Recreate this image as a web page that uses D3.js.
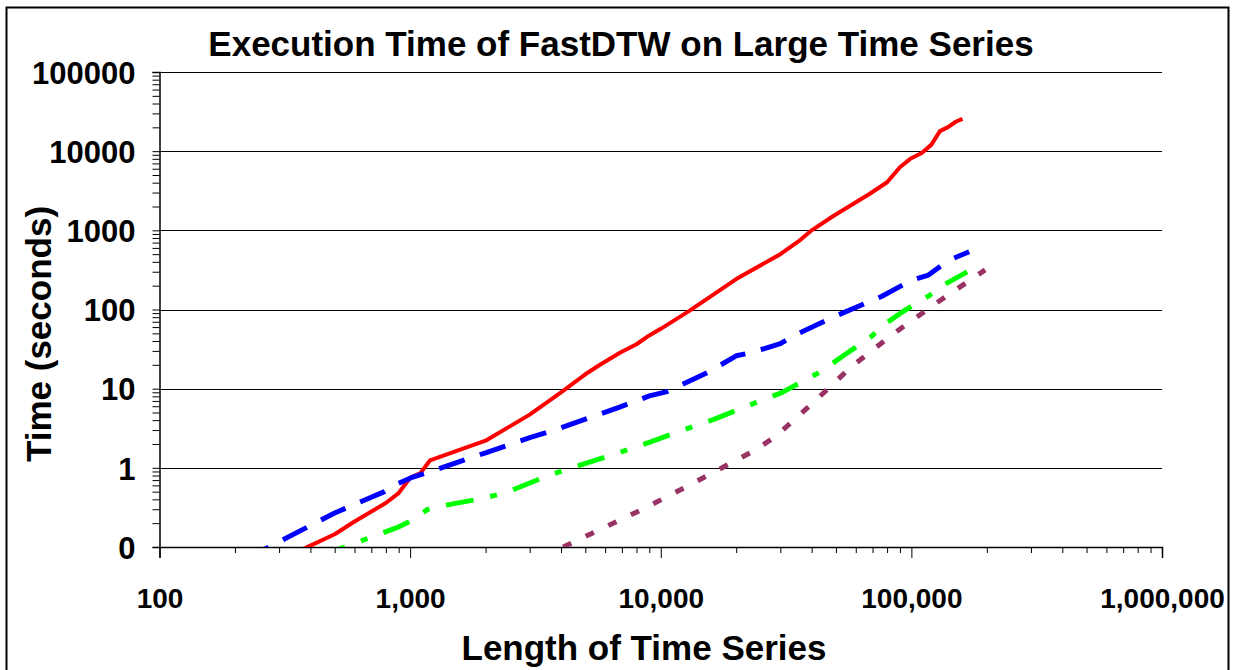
<!DOCTYPE html>
<html>
<head>
<meta charset="utf-8">
<script src="https://cdn.jsdelivr.net/npm/d3@7"></script>
<style>
  body { margin: 0; background: #fff; }
  text { font-family: "Liberation Sans", Arial, sans-serif; font-weight: bold; fill: #000; }
</style>
</head>
<body>
<div id="chart-area"></div>
<script>
// axis ticks
const xTicks = [100, 1000, 10000, 100000, 1000000];
const xTickLabels = ["100", "1,000", "10,000", "100,000", "1,000,000"];
const yTicks = [0.1, 1, 10, 100, 1000, 10000, 100000];
const yTickLabels = ["0", "1", "10", "100", "1000", "10000", "100000"];

// series: [length of time series, seconds]
const redSeries = [
  [300, 0.068], [400, 0.104], [500, 0.145], [600, 0.21], [800, 0.36], [900, 0.48],
  [1000, 0.75], [1100, 0.86], [1200, 1.24], [2000, 2.2], [3000, 4.7], [4000, 9.0],
  [5000, 15.2], [5700, 19.9], [6900, 28.6], [8000, 36.4], [9000, 47], [10000, 57],
  [13000, 96], [20000, 242], [30000, 500], [36000, 753], [40000, 1000], [49000, 1530],
  [68000, 2880], [80000, 4050], [90000, 6270], [99000, 8000], [110000, 9500],
  [120000, 12000], [130000, 17900], [140000, 20100], [151000, 23700], [160000, 25600]
];
const blueSeries = [
  [200, 0.06], [500, 0.269], [790, 0.5], [890, 0.63], [1010, 0.75], [1300, 0.97],
  [2000, 1.55], [3000, 2.4], [4000, 3.2], [6900, 5.9], [9000, 8.1], [10500, 9.1],
  [15500, 16.2], [20000, 26], [23000, 28.6], [30000, 37], [34000, 47], [50000, 83],
  [76000, 146], [99000, 230], [117000, 272], [134000, 374], [147000, 442], [170000, 536]
];
const greenSeries = [
  [500, 0.09], [880, 0.174], [1000, 0.211], [1170, 0.296], [1240, 0.317], [1900, 0.405],
  [2400, 0.483], [3560, 0.8], [4550, 1.03], [6900, 1.57], [9000, 2.1], [13000, 3.2],
  [16300, 4.1], [24500, 6.85], [30400, 8.9], [43900, 16.7], [53800, 26.4], [69500, 46],
  [76000, 61], [92000, 93], [118600, 152], [134000, 203], [167000, 299]
];
const purpleSeries = [
  [3000, 0.063], [8400, 0.296], [12760, 0.585], [23800, 1.67], [28800, 2.51],
  [41200, 6.97], [58000, 19.3], [86100, 51], [128000, 125], [197000, 317]
];

const chart = { width: 1239, height: 670 };
const margin = { top: 72, right: 77, left: 159.5, bottom: 123 };
const height = chart.height - (margin.top + margin.bottom);
const width = chart.width - (margin.left + margin.right);

const x = d3.scaleLog().domain([100, 1000000]).range([0, width]);
const y = d3.scaleLog().domain([0.1, 100000]).range([height, 0]);

const svg = d3.select("#chart-area")
  .append("svg")
  .attr("width", chart.width)
  .attr("height", chart.height);

// outer frame
svg.append("rect")
  .attr("x", 6.5).attr("y", 7.5)
  .attr("width", 1222).attr("height", 700)
  .attr("fill", "none").attr("stroke", "#000").attr("stroke-width", 2);

svg.append("text")
  .text("Execution Time of FastDTW on Large Time Series")
  .attr("x", 621).attr("y", 56)
  .attr("text-anchor", "middle")
  .style("font-size", "35px");

const g = svg.append("g")
  .attr("transform", `translate(${margin.left}, ${margin.top})`);

// gridlines
g.append("g")
  .selectAll("line")
  .data(yTicks.slice(1))
  .join("line")
  .attr("x1", 0).attr("x2", width)
  .attr("y1", d => Math.round(y(d)) + 0.5).attr("y2", d => Math.round(y(d)) + 0.5)
  .attr("stroke", "#000").attr("stroke-width", 1);

// minor tick positions
const minorX = [];
for (let k = 2; k < 6; k++) for (let d = 2; d < 10; d++) minorX.push(d * Math.pow(10, k));
const minorY = [];
for (let k = -1; k < 5; k++) for (let d = 2; d < 10; d++) minorY.push(d * Math.pow(10, k));

// y axis
g.append("g")
  .attr("class", "y-minor")
  .call(d3.axisLeft(y).tickValues(minorY).tickSize(7).tickFormat(""));
const yAxis = g.append("g")
  .attr("class", "y-axis")
  .call(d3.axisLeft(y).tickValues(yTicks).tickSize(7).tickPadding(17)
    .tickFormat((d, i) => yTickLabels[i]));
yAxis.selectAll("text").style("font-size", "31px").attr("dy", "0.36em");

// x axis
g.append("g")
  .attr("class", "x-minor")
  .attr("transform", `translate(0, ${height})`)
  .call(d3.axisBottom(x).tickValues(minorX).tickSize(6).tickFormat(""));
const xAxis = g.append("g")
  .attr("class", "x-axis")
  .attr("transform", `translate(0, ${height})`)
  .call(d3.axisBottom(x).tickValues(xTicks).tickSize(11).tickPadding(30)
    .tickFormat((d, i) => xTickLabels[i]));
xAxis.selectAll("text").style("font-size", "28px");

g.selectAll(".domain").attr("stroke", "#000").attr("stroke-width", 1.5);
g.selectAll(".y-minor .domain, .x-minor .domain").remove();
g.selectAll(".tick line").attr("stroke", "#000");

// axis titles
svg.append("text")
  .text("Time (seconds)")
  .attr("transform", "translate(51, 334) rotate(-90)")
  .attr("text-anchor", "middle")
  .style("font-size", "35px");

svg.append("text")
  .text("Length of Time Series")
  .attr("x", 644).attr("y", 660)
  .attr("text-anchor", "middle")
  .style("font-size", "35px");

// series lines, clipped to the plot area
svg.append("clipPath").attr("id", "plot-clip")
  .append("rect").attr("x", 0).attr("y", 0).attr("width", width).attr("height", height);

const line = d3.line().x(d => x(d[0])).y(d => y(d[1]));
const series = [
  { data: redSeries, color: "#ff0000", w: 4, dash: null, offset: 0 },
  { data: blueSeries, color: "#0000ff", w: 5, dash: "27,16", offset: 32 },
  { data: greenSeries, color: "#00ff00", w: 5, dash: "28,17,7,17", offset: 17 },
  { data: purpleSeries, color: "#993366", w: 5, dash: "9,16", offset: 13 }
];

g.append("g")
  .attr("clip-path", "url(#plot-clip)")
  .selectAll("path")
  .data(series)
  .join("path")
  .attr("d", s => line(s.data))
  .attr("fill", "none")
  .attr("stroke", s => s.color)
  .attr("stroke-width", s => s.w)
  .attr("stroke-dasharray", s => s.dash)
  .attr("stroke-dashoffset", s => s.offset)
  .attr("stroke-linejoin", "round");
</script>
</body>
</html>
